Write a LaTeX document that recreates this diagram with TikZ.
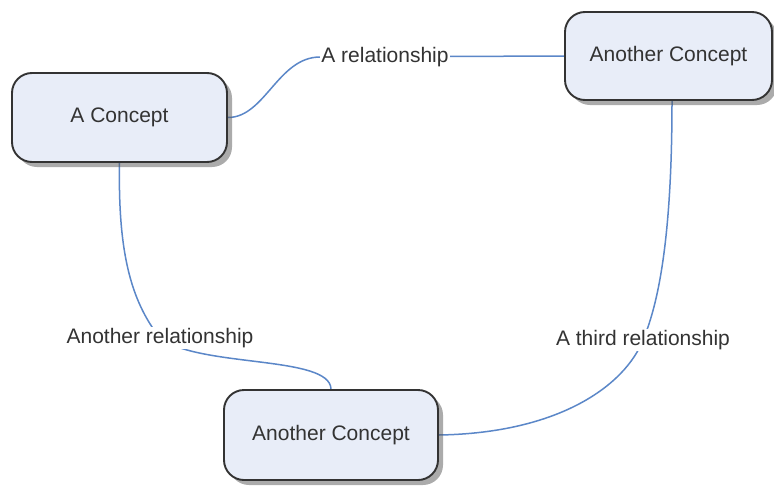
\documentclass[tikz,border=0pt]{standalone}
\usepackage{fontspec}
\setmainfont{Liberation Sans}
\usetikzlibrary{shadows,backgrounds}
\definecolor{boxfill}{HTML}{E8EDF8}
\definecolor{boxline}{HTML}{333333}
\definecolor{linkblue}{HTML}{5B87C8}
\definecolor{txt}{HTML}{333333}
\tikzset{
  concept/.style={draw=boxline, line width=1.9pt, fill=boxfill, rounded corners=20pt,
    text=txt, font=\fontsize{21}{25}\selectfont, inner sep=0pt,
    drop shadow={shadow xshift=5pt, shadow yshift=-5pt, fill=black!65}},
  rel/.style={fill=white, text=txt, font=\fontsize{21}{25}\selectfont, inner sep=1pt},
  conn/.style={draw=linkblue, line width=1.5pt}
}
\begin{document}
\begin{tikzpicture}[x=1pt,y=-1pt]
\useasboundingbox (0,0) rectangle (774,485);
\node[concept, minimum width=215pt, minimum height=89pt] (a) at (119.5,117.5) {A Concept};
\node[concept, minimum width=207pt, minimum height=88pt] (tr) at (668.5,56) {Another Concept};
\node[concept, minimum width=214pt, minimum height=90pt] (bot) at (331,435) {Another Concept};
\node[rel] (l1) at (385,57) {A relationship};
\node[rel] (l2) at (160,338) {Another relationship};
\node[rel] (l3) at (643,340) {A third relationship};
\begin{pgfonlayer}{background}
\fill[white] (0,0) rectangle (774,485);
\draw[conn] (a.east) .. controls (265,117.5) and (278,57) .. (l1.west) -- (tr.west);
\draw[conn] (a.south) .. controls (118,250) and (130,300) .. (l2.center)
  .. controls (200,368) and (330,355) .. (bot.north);
\draw[conn] ([xshift=3.5pt]tr.south) .. controls (672,230) and (660,300) .. (l3.center)
  .. controls (625,385) and (560,433) .. (bot.east);
\end{pgfonlayer}
\end{tikzpicture}
\end{document}
